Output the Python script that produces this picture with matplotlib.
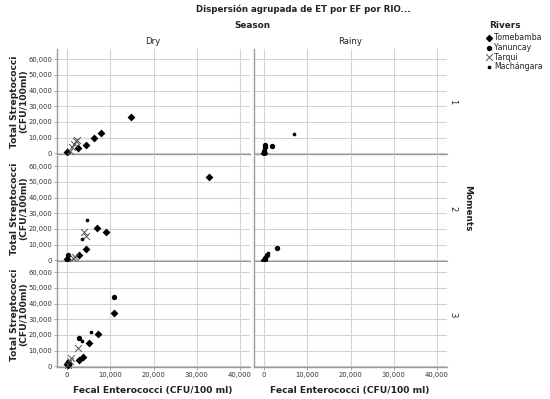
import matplotlib
matplotlib.use("Agg")
import matplotlib.pyplot as plt
import pandas as pd

plt.rcParams["font.family"] = ["DejaVu Sans"]

# data: fecal enterococci (fe) vs total streptococci (ts)
tomebamba_moment = [1, 1, 1, 1, 1, 1, 1, 2, 2, 2, 2, 2, 2, 2, 3, 3, 3, 3, 3, 3, 3]
tomebamba_season = ["Dry"] * 6 + ["Rainy"] + ["Dry"] * 6 + ["Rainy"] + ["Dry"] * 7
tomebamba_fe = [0, 2500, 4300, 6200, 7800, 14900, 0,
                0, 2800, 4300, 6900, 9000, 32900, 100,
                0, 300, 2700, 3600, 5000, 7200, 10900]
tomebamba_ts = [600, 3700, 5300, 10000, 13000, 23300, 300,
                900, 3300, 7200, 20600, 18000, 53000, 500,
                1500, 800, 4000, 5700, 14700, 20600, 34200]

yanuncay_moment = [1, 1, 1, 1, 2, 2, 2, 2, 2, 3, 3, 3]
yanuncay_season = ["Rainy"] * 4 + ["Dry", "Dry", "Rainy", "Rainy", "Rainy", "Dry", "Dry", "Dry"]
yanuncay_fe = [0, 200, 300, 1800, 300, 100, 300, 700, 3000, 10900, 2800, 300]
yanuncay_ts = [1500, 4000, 5600, 4600, 3500, 800, 1800, 3500, 7900, 44000, 18300, 2500]

tarqui_moment = [1, 1, 1, 1, 1, 2, 2, 2, 2, 3, 3, 3, 3]
tarqui_season = ["Dry"] * 13
tarqui_fe = [600, 1200, 1700, 2100, 2400, 1500, 1900, 4000, 4400, 200, 600, 900, 2500]
tarqui_ts = [1800, 4200, 6200, 7800, 8300, 1500, 2200, 18000, 15800, 1000, 3500, 5600, 11700]

machangara_moment = [1, 2, 2, 2, 2, 3, 3, 3]
machangara_season = ["Rainy", "Dry", "Dry", "Rainy", "Rainy", "Dry", "Dry", "Dry"]
machangara_fe = [7000, 4700, 3500, 900, 100, 5500, 3500, 600]
machangara_ts = [12200, 25800, 13500, 4700, 800, 22200, 16000, 1200]

seasons = ["Dry", "Rainy"]
moments = [1, 2, 3]
x_ticks = [0, 10000, 20000, 30000, 40000]
y_ticks = [0, 10000, 20000, 30000, 40000, 50000, 60000]

rivers = {
    "Tomebamba": (tomebamba_moment, tomebamba_season, tomebamba_fe, tomebamba_ts),
    "Yanuncay": (yanuncay_moment, yanuncay_season, yanuncay_fe, yanuncay_ts),
    "Tarqui": (tarqui_moment, tarqui_season, tarqui_fe, tarqui_ts),
    "Machángara": (machangara_moment, machangara_season, machangara_fe, machangara_ts),
}
frames = []
for name, (mo, se, fe, ts) in rivers.items():
    frames.append(pd.DataFrame({"river": name, "moment": mo, "season": se, "fe": fe, "ts": ts}))
df = pd.concat(frames, ignore_index=True)

styles = {
    "Tomebamba": dict(marker="D", s=16, color="black", linewidths=0),
    "Yanuncay": dict(marker="o", s=15, color="black", linewidths=0),
    "Tarqui": dict(marker="x", s=24, color="#555555", linewidths=0.7),
    "Machángara": dict(marker="o", s=7, color="black", linewidths=0),
}

W, H = 550, 399
fig = plt.figure(figsize=(W / 100, H / 100), dpi=100)


def fx(px):
    return px / W


def fy(py):
    return 1 - py / H


col_left = [57, 254]
col_w = 193
row_top = [49, 156, 262]
row_h = 105
grid_c = "#d4d4d4"
spine_c = "#9a9a9a"
tick_c = "#333333"

for r, mom in enumerate(moments):
    for c, sea in enumerate(seasons):
        ax = fig.add_axes([fx(col_left[c]), fy(row_top[r] + row_h), fx(col_w), row_h / H])
        sub = df[(df.moment == mom) & (df.season == sea)]
        for name, st in styles.items():
            d = sub[sub.river == name]
            ax.scatter(d.fe, d.ts, zorder=3, clip_on=False, **st)
        ax.set_xlim(-2300, 42300)
        ax.set_ylim(-400, 66500)
        ax.set_xticks(x_ticks)
        ax.set_yticks(y_ticks)
        ax.grid(True, color=grid_c, lw=0.8)
        ax.set_axisbelow(True)
        for s in ["top", "right"]:
            ax.spines[s].set_visible(False)
        for s in ["left", "bottom"]:
            ax.spines[s].set_color(spine_c)
            ax.spines[s].set_linewidth(1.0)
        ax.tick_params(length=2, width=0.6, color=spine_c, labelsize=4.9,
                       labelcolor=tick_c, pad=1.5)
        if c == 0:
            ax.set_yticklabels([f"{v:,}" for v in y_ticks])
        else:
            ax.set_yticklabels([])
            ax.tick_params(axis="y", length=0)
        if r == 2:
            ax.set_xticklabels([f"{v:,}" for v in x_ticks])
        else:
            ax.set_xticklabels([])
            ax.tick_params(axis="x", length=0)

# texts
bold = dict(fontweight="bold", color="#222222")
fig.text(fx(303), fy(9), "Dispersión agrupada de ET por EF por RIO...", ha="center", va="center",
         fontsize=6.2, **bold)
fig.text(fx(252), fy(25), "Season", ha="center", va="center", fontsize=6.4, **bold)
fig.text(fx(153), fy(41), "Dry", ha="center", va="center", fontsize=6.2, color="#222222")
fig.text(fx(350), fy(41), "Rainy", ha="center", va="center", fontsize=6.2, color="#222222")

for r in range(3):
    yc = row_top[r] + row_h / 2
    fig.text(fx(19), fy(yc), "Total Streptococci\n(CFU/100ml)", ha="center", va="center",
             rotation=90, fontsize=6.6, linespacing=0.95, **bold)
    fig.text(fx(453), fy(yc), str(moments[r]), ha="center", va="center", rotation=-90,
             fontsize=6, color="#222222")
fig.text(fx(468), fy(208), "Moments", ha="center", va="center", rotation=-90, fontsize=6.4, **bold)

for c in range(2):
    fig.text(fx(col_left[c] + 96), fy(391), "Fecal Enterococci (CFU/100 ml)", ha="center",
             va="center", fontsize=6.6, **bold)

# legend
fig.text(fx(505), fy(25), "Rivers", ha="center", va="center", fontsize=6.4, **bold)
leg_y = [38, 47.5, 57, 66.5]
for yy, (name, st) in zip(leg_y, styles.items()):
    fig.text(fx(494), fy(yy), name, ha="left", va="center", fontsize=5.6, color="#222222")
    lax = fig.add_axes([fx(486), fy(yy + 4), fx(6), 8 / H])
    lax.scatter([0], [0], **st)
    lax.set_xlim(-1, 1)
    lax.set_ylim(-1, 1)
    lax.axis("off")

fig.savefig("out.png", dpi=100)
